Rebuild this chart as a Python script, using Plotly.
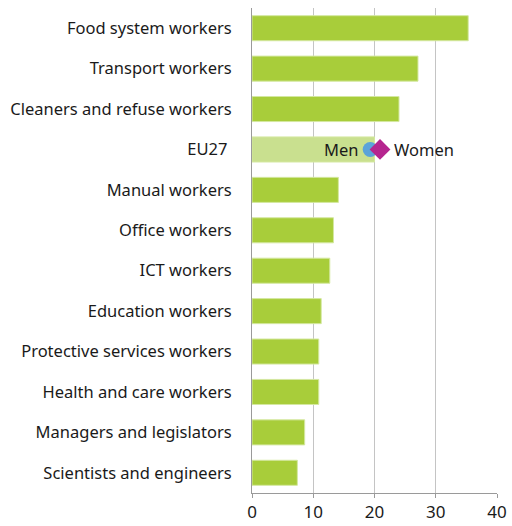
import plotly.graph_objects as go

categories = ["Food system workers", "Transport workers", "Cleaners and refuse workers",
              "EU27 ", "Manual workers", "Office workers", "ICT workers",
              "Education workers", "Protective services workers",
              "Health and care workers", "Managers and legislators",
              "Scientists and engineers"]
values = [35.3, 27.1, 24.0, 20.0, 14.1, 13.3, 12.7, 11.3, 10.9, 10.9, 8.6, 7.4]
men_value = 19.3
women_value = 20.9

bar_colors = ["#c9e08f" if c.startswith("EU27") else "#a8cd3a" for c in categories]

fig = go.Figure()
fig.add_trace(go.Bar(
    y=categories, x=values, orientation="h",
    marker=dict(color=bar_colors, line=dict(color="#d4e8a0", width=1)),
    width=0.62, showlegend=False,
))
fig.add_trace(go.Scatter(
    x=[men_value], y=["EU27 "], mode="markers",
    marker=dict(symbol="circle", size=15, color="#5ba3d9"),
    showlegend=False,
))
fig.add_trace(go.Scatter(
    x=[women_value], y=["EU27 "], mode="markers",
    marker=dict(symbol="diamond", size=16, color="#b5258f"),
    showlegend=False,
))

fig.add_annotation(x=men_value, y="EU27 ", text="Men", showarrow=False,
                   xanchor="right", xshift=-10, font=dict(size=16.5, color="#1a1a1a"))
fig.add_annotation(x=women_value, y="EU27 ", text="Women", showarrow=False,
                   xanchor="left", xshift=12, font=dict(size=16.5, color="#1a1a1a"))

fig.update_layout(
    width=512, height=526,
    margin=dict(l=252, r=15, t=8, b=33),
    plot_bgcolor="white", paper_bgcolor="white",
    font=dict(family="Noto Sans", size=16.5, color="#1a1a1a"),
    bargap=0.38,
)
fig.update_xaxes(range=[0, 40], dtick=10, showgrid=True, gridcolor="#c4c4c4",
                 gridwidth=1, showline=True, linecolor="#9a9a9a", ticks="outside",
                 ticklen=4, tickcolor="#9a9a9a", zeroline=False, fixedrange=True,
                 tickfont=dict(size=17), automargin=False, ticklabeloverflow="allow")
fig.update_yaxes(categoryorder="array", categoryarray=categories,
                 autorange="reversed", showline=True, linecolor="#9a9a9a",
                 ticks="", ticklabelstandoff=16, fixedrange=True, automargin=False)

# drop the default 8px body margin so the figure fills the window
fig.write_html("out.html", config={"displayModeBar": False},
               post_script="document.body.style.margin='0';")
